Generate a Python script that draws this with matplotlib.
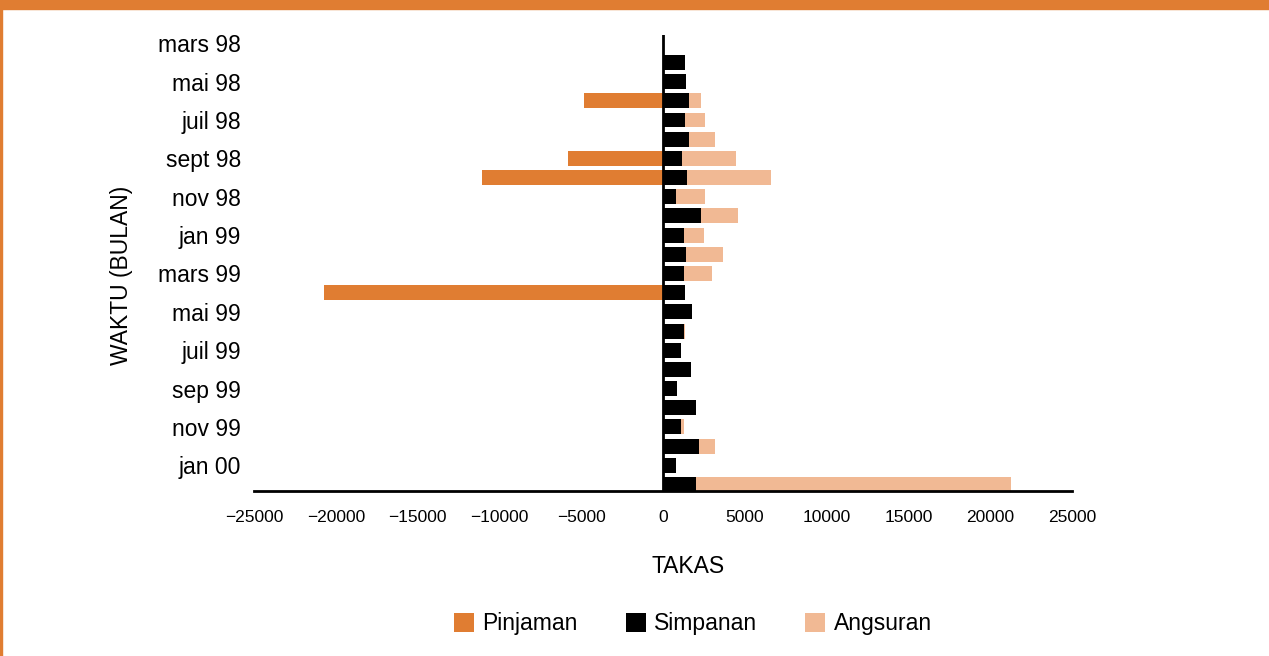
import numpy as np
import matplotlib.pyplot as plt
from matplotlib.patches import Rectangle

plt.rcParams['font.family'] = ['Liberation Sans', 'DejaVu Sans']

# monthly rows, March 1998 to February 2000
months = ['mars 98', 'avr 98', 'mai 98', 'juin 98', 'juil 98', 'août 98',
          'sept 98', 'oct 98', 'nov 98', 'déc 98', 'jan 99', 'fév 99',
          'mars 99', 'avr 99', 'mai 99', 'juin 99', 'juil 99', 'août 99',
          'sep 99', 'oct 99', 'nov 99', 'déc 99', 'jan 00', 'fév 00']
tick_labels = ['mars 98', 'mai 98', 'juil 98', 'sept 98', 'nov 98', 'jan 99',
               'mars 99', 'mai 99', 'juil 99', 'sep 99', 'nov 99', 'jan 00']

pinjaman = [0, 0, 0, -4850, 0, 0, -5820, -11080, 0, 0, 0, 0,
            0, -20700, 0, 0, 0, 0, 0, 0, 0, 0, 0, 0]
simpanan = [0, 1330, 1390, 1590, 1330, 1590, 1160, 1470, 800, 2330, 1290, 1410,
            1290, 1350, 1780, 1290, 1100, 1680, 860, 2020, 1100, 2200, 800, 2020]
angsuran = [0, 0, 0, 740, 1220, 1590, 3310, 5140, 1770, 2260, 1220, 2260,
            1710, 0, 0, 50, 0, 50, 0, 0, 190, 980, 0, 19230]

c_pinjaman = '#E07D32'
c_simpanan = '#000000'
c_angsuran = '#F1B994'

fig = plt.figure(figsize=(12.69, 6.56), dpi=100)
ax = fig.add_axes([0.2002, 0.2515, 0.6446, 0.6951])

y = np.arange(len(months))
h = 0.78
ax.barh(y, pinjaman, height=h, color=c_pinjaman, label='Pinjaman')
ax.barh(y, simpanan, height=h, color=c_simpanan, label='Simpanan')
ax.barh(y, angsuran, height=h, left=simpanan, color=c_angsuran, label='Angsuran')

ax.set_xlim(-25000, 25000)
ax.set_ylim(23.34, -0.43)
ax.axvline(0, color='black', lw=2)

ax.set_yticks(y[::2])
ax.set_yticklabels(tick_labels, fontsize=16.5)
ax.set_xticks(np.arange(-25000, 25001, 5000))
ax.tick_params(axis='x', labelsize=12.5, length=0, pad=14)
ax.tick_params(axis='y', length=0, pad=9.5)

for side in ['top', 'right', 'left']:
    ax.spines[side].set_visible(False)
ax.spines['bottom'].set_linewidth(2)

fig.text(0.542, 0.136, 'TAKAS', fontsize=16.5, ha='center', va='center')
fig.text(0.096, 0.58, 'WAKTU (BULAN)', fontsize=16.5, ha='center', va='center',
         rotation=90)

fig.legend(loc='center', bbox_to_anchor=(0.546, 0.049), ncol=3, frameon=False,
           fontsize=16.5, handlelength=0.88, handleheight=0.88,
           handletextpad=0.35, columnspacing=2.1)

# orange frame accents
fig.patches.append(Rectangle((0, 1 - 9 / 656), 1, 9 / 656, transform=fig.transFigure,
                             color=c_pinjaman, zorder=10))
fig.patches.append(Rectangle((0, 0), 2 / 1269, 1, transform=fig.transFigure,
                             color=c_pinjaman, zorder=10))

fig.savefig('out.png', dpi=100)
